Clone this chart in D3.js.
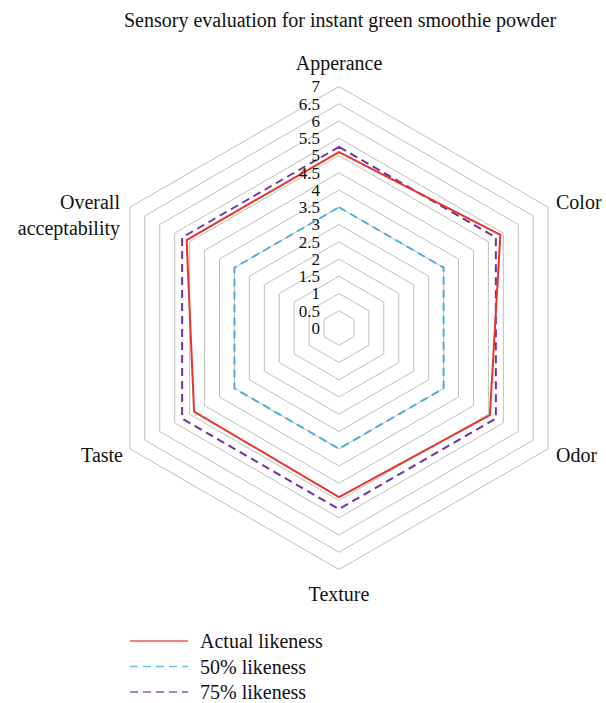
<!DOCTYPE html>
<html><head><meta charset="utf-8">
<script src="https://cdn.jsdelivr.net/npm/d3@7"></script>
<style>body{margin:0;background:#fff}text{font-family:"Liberation Serif","DejaVu Serif",serif;fill:#111}</style>
</head><body>
<svg id="c" width="606" height="703"></svg>
<script>
const title = "Sensory evaluation for instant green smoothie powder";
const categories = ["Apperance","Color","Odor","Texture","Taste","Overall acceptability"];
const seriesNames = ["Actual likeness","50% likeness","75% likeness"];
const actual = [5.1, 5.4, 5.05, 4.9, 4.85, 5.1];
const half = [3.5, 3.5, 3.5, 3.5, 3.5, 3.5];
const threeQuarter = [5.25, 5.25, 5.25, 5.25, 5.25, 5.25];
const ticks = [0,0.5,1,1.5,2,2.5,3,3.5,4,4.5,5,5.5,6,6.5,7];

const svg = d3.select("#c");
const cx = 339, cy = 328;
const r = d3.scaleLinear().domain([0,7]).range([0,241.5]);
const ang = d3.scaleLinear().domain([0,categories.length]).range([0,2*Math.PI]);
const pt = (i,v)=>[cx + r(v)*Math.sin(ang(i)), cy - r(v)*Math.cos(ang(i))];
const line = d3.line();

svg.append("text").attr("x",340).attr("y",27).attr("text-anchor","middle").style("font-size","20px").text(title);

// grid
ticks.filter(t=>t>0).forEach(t=>{
  const pts = categories.map((c,i)=>pt(i,t));
  svg.append("path").attr("d", line(pts)+"Z").attr("fill","none").attr("stroke","#bfbfbf").attr("stroke-width",1);
});

const series = [
  {name:seriesNames[1], data:half, color:"#4bacde", dash:"8,5", w:2},
  {name:seriesNames[2], data:threeQuarter, color:"#7030a0", dash:"8,5", w:2},
  {name:seriesNames[0], data:actual, color:"#e8352a", dash:null, w:2}
];
series.forEach(s=>{
  const pts = s.data.map((v,i)=>pt(i,v));
  svg.append("path").attr("d", line(pts)+"Z").attr("fill","none")
    .attr("stroke",s.color).attr("stroke-width",s.w).attr("stroke-dasharray",s.dash)
    .attr("stroke-linejoin","miter");
});

// tick labels
ticks.forEach(t=>{
  svg.append("text").attr("x",cx-19).attr("y",cy - r(t)).attr("dy","0.35em")
    .attr("text-anchor","end").style("font-size","17px").text(d3.format("")(t));
});

// axis labels
const labelPos = [
  {x:339,y:70,a:"middle"},
  {x:556,y:209,a:"start"},
  {x:556,y:462,a:"start"},
  {x:339,y:601,a:"middle"},
  {x:123,y:462,a:"end"},
  {x:120,y:209,a:"end"}
];
labelPos.forEach((p,i)=>{
  const words = categories[i]==="Overall acceptability" ? ["Overall","acceptability"] : [categories[i]];
  const t = svg.append("text").attr("x",p.x).attr("y",p.y).attr("text-anchor",p.a).style("font-size","20px");
  words.forEach((w,j)=>t.append("tspan").attr("x",p.x).attr("dy",j?"1.3em":0).text(w));
});

// legend
const legOrder = [series[2],series[0],series[1]];
legOrder.forEach((s,i)=>{
  const y = 641 + i*25.5;
  svg.append("line").attr("x1",130).attr("x2",188).attr("y1",y).attr("y2",y)
    .attr("stroke",s.color).attr("stroke-width",1.5).attr("stroke-dasharray",s.dash).attr("opacity",0.8);
  svg.append("text").attr("x",200).attr("y",y).attr("dy","0.35em").style("font-size","20px").text(s.name);
});
</script>
</body></html>
